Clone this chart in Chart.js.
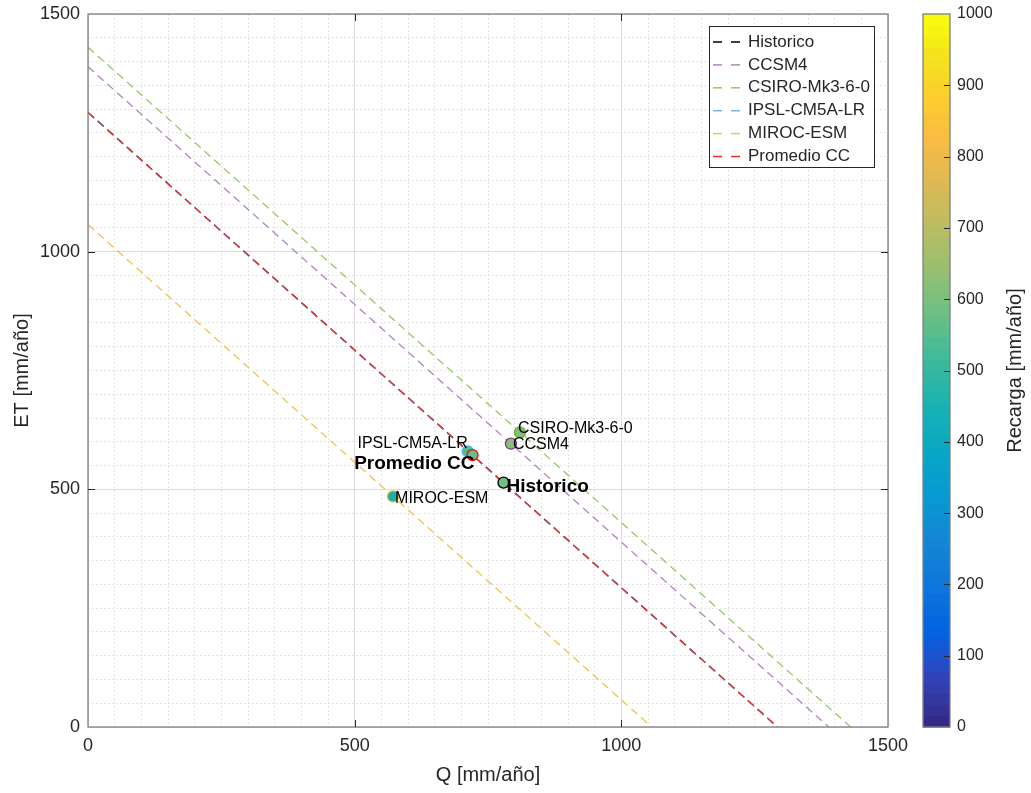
<!DOCTYPE html>
<html><head><meta charset="utf-8">
<script src="https://cdn.jsdelivr.net/npm/chart.js@4.4.0/dist/chart.umd.min.js"></script>
<style>html,body{margin:0;padding:0;background:#fff;}canvas{display:block;}</style>
</head><body>
<canvas id="c" width="1031" height="793"></canvas>
<script>
// ---- data ----
const models = ['Historico', 'CCSM4', 'CSIRO-Mk3-6-0', 'IPSL-CM5A-LR', 'MIROC-ESM', 'Promedio CC'];
const qValues = [779, 793, 810, 712, 572, 721];          // Q [mm/año]
const etValues = [514, 596, 620, 580, 485, 572];         // ET [mm/año]
const recargaValues = [590, 620, 610, 540, 450, 570];    // Recarga [mm/año]
const axisTickLabels = [0, 500, 1000, 1500];
const colorbarTicks = [0, 100, 200, 300, 400, 500, 600, 700, 800, 900, 1000];

// ---- styles ----
const FONT = '"Liberation Sans", Arial, Helvetica, sans-serif';
const TEXT = '#262626';
const lineColors = ['#000000', '#b383c2', '#9cc663', '#6cb8e6', '#f2c14e', '#ee2c2c'];
const edgeColors = ['#000000', '#7e2f8e', '#77ac30', '#4dbeee', '#edb120', '#ff0000'];
const labelStyle = [
  {dx: 3, dy: 4, align: 'left', bold: true},
  {dx: 2, dy: 1, align: 'left'},
  {dx: -2, dy: -4, align: 'left'},
  {dx: 0, dy: -8, align: 'right'},
  {dx: 2, dy: 2, align: 'left'},
  {dx: 2, dy: 9, align: 'right', bold: true}
];
const parulaAnchors = [
  [0.2081,0.1663,0.5292],[0.1959,0.2645,0.7279],[0.0117,0.3875,0.8820],[0.0498,0.4586,0.8641],
  [0.0793,0.5200,0.8312],[0.0343,0.5966,0.8199],[0.0228,0.6535,0.7768],[0.0843,0.6928,0.7062],
  [0.2178,0.7250,0.6193],[0.3953,0.7459,0.5244],[0.5709,0.7485,0.4494],[0.7184,0.7411,0.3905],
  [0.8507,0.7299,0.3360],[0.9739,0.7314,0.2666],[0.9880,0.8066,0.1794],[0.9589,0.8949,0.1132],
  [0.9763,0.9831,0.0538]
];
const anchorPos = [0,4,8,12,16,20,24,28,32,36,40,44,48,52,56,60,63].map(i => i / 63);
function parula(t) {
  t = Math.max(0, Math.min(1, t));
  let k = 0;
  while (k < anchorPos.length - 2 && t > anchorPos[k + 1]) k++;
  const f = (t - anchorPos[k]) / (anchorPos[k + 1] - anchorPos[k]);
  const a = parulaAnchors[k], b = parulaAnchors[k + 1];
  const c = a.map((v, i) => Math.round(255 * (v + (b[i] - v) * f)));
  return `rgb(${c[0]},${c[1]},${c[2]})`;
}
const CMIN = 0, CMAX = 1000;

Chart.defaults.font.family = FONT;
Chart.defaults.color = TEXT;

const lineSets = models.map((m, i) => {
  const total = qValues[i] + etValues[i];
  return {
    type: 'line', label: m,
    data: [{x: 0, y: total}, {x: total, y: 0}],
    borderColor: lineColors[i], borderWidth: 1.3, borderDash: [8, 5],
    pointRadius: 0, showLine: true, fill: false, order: 20 - i
  };
});
const pointSets = models.map((m, i) => ({
  type: 'scatter', label: m + ' punto',
  data: [{x: qValues[i], y: etValues[i]}],
  backgroundColor: parula((recargaValues[i] - CMIN) / (CMAX - CMIN)),
  borderColor: edgeColors[i], borderWidth: 1.3,
  pointRadius: 5.5, pointHoverRadius: 5.5, order: 10 - i
}));

const gridColor = ctx => (ctx.tick && ctx.tick.value % 500 === 0) ? '#dcdcdc' : '#e4e4e4';
const gridDash = ctx => (ctx.tick && ctx.tick.value % 500 !== 0) ? [2, 2] : [];
const majorLabel = v => (v % 500 === 0 ? String(v) : '');
const noPad = s => { s.paddingTop = 0; s.paddingBottom = 0; s.paddingLeft = 0; s.paddingRight = 0; };

const overlay = {
  id: 'overlay',
  afterDraw(chart) {
    const {ctx, chartArea: a, scales} = chart;
    const xs = scales.x, ys = scales.y, cs = scales.cb;
    ctx.save();
    // axes box
    ctx.strokeStyle = '#808080'; ctx.lineWidth = 1.3; ctx.setLineDash([]);
    ctx.strokeRect(a.left, a.top, a.right - a.left, a.bottom - a.top);
    // inward major ticks
    ctx.strokeStyle = TEXT; ctx.lineWidth = 1;
    const seg = (x1, y1, x2, y2) => { ctx.beginPath(); ctx.moveTo(x1, y1); ctx.lineTo(x2, y2); ctx.stroke(); };
    axisTickLabels.forEach(v => {
      if (v <= 0 || v >= 1500) return;
      const px = Math.round(xs.getPixelForValue(v)) + 0.5;
      seg(px, a.bottom, px, a.bottom - 7); seg(px, a.top, px, a.top + 7);
      const py = Math.round(ys.getPixelForValue(v)) + 0.5;
      seg(a.left, py, a.left + 7, py); seg(a.right, py, a.right - 7, py);
    });
    // point labels
    ctx.fillStyle = '#000'; ctx.textBaseline = 'middle';
    models.forEach((m, i) => {
      const el = chart.getDatasetMeta(lineSets.length + i).data[0];
      const st = labelStyle[i];
      ctx.font = (st.bold ? 'bold 19px ' : '16px ') + FONT;
      ctx.textAlign = st.align;
      ctx.fillText(m, el.x + st.dx, el.y + st.dy);
    });
    // legend
    const lx = a.right - 179, ly = a.top + 12, lw = 165, lh = 141;
    ctx.fillStyle = '#fff'; ctx.fillRect(lx, ly, lw, lh);
    ctx.strokeStyle = '#262626'; ctx.lineWidth = 1;
    ctx.strokeRect(lx + 0.5, ly + 0.5, lw, lh);
    ctx.font = '17px ' + FONT; ctx.textAlign = 'left'; ctx.fillStyle = TEXT;
    models.forEach((m, i) => {
      const y = ly + 16 + i * 22.9;
      ctx.strokeStyle = lineColors[i];
      ctx.lineWidth = 1.5; ctx.setLineDash([9, 9]);
      seg(lx + 4, y, lx + 31, y);
      ctx.setLineDash([]);
      ctx.fillText(m, lx + 39, y);
    });
    // colorbar
    const cbL = a.right + 35, cbW = 27;
    const nb = 64;
    for (let k = 0; k < nb; k++) {
      const v0 = CMIN + (CMAX - CMIN) * k / nb, v1 = CMIN + (CMAX - CMIN) * (k + 1) / nb;
      const y0 = cs.getPixelForValue(v0), y1 = cs.getPixelForValue(v1);
      ctx.fillStyle = parula(k / (nb - 1));
      ctx.fillRect(cbL, y1 - 0.5, cbW, (y0 - y1) + 1);
    }
    ctx.strokeStyle = '#808080'; ctx.lineWidth = 1.3;
    ctx.strokeRect(cbL, a.top, cbW, a.bottom - a.top);
    ctx.strokeStyle = TEXT; ctx.lineWidth = 1;
    colorbarTicks.forEach(v => {
      if (v <= CMIN || v >= CMAX) return;
      const py = Math.round(cs.getPixelForValue(v)) + 0.5;
      seg(cbL + cbW, py, cbL + cbW - 6, py);
    });
    // colorbar title
    ctx.save();
    ctx.translate(a.right + 127, (a.top + a.bottom) / 2);
    ctx.rotate(-Math.PI / 2);
    ctx.font = '20px ' + FONT; ctx.fillStyle = TEXT;
    ctx.textAlign = 'center'; ctx.textBaseline = 'middle';
    ctx.fillText('Recarga [mm/año]', 0, 0);
    ctx.restore();
    ctx.restore();
  }
};

new Chart(document.getElementById('c'), {
  type: 'scatter',
  data: {datasets: [...lineSets, ...pointSets]},
  options: {
    responsive: false, animation: false,
    layout: {padding: {top: 14, left: 0, right: 0, bottom: 0}},
    plugins: {legend: {display: false}, tooltip: {enabled: false}},
    scales: {
      x: {
        type: 'linear', min: 0, max: 1500,
        ticks: {stepSize: 50, autoSkip: false, maxRotation: 0, callback: majorLabel,
                font: {size: 18}, color: TEXT, padding: 8},
        grid: {color: gridColor, lineWidth: 1, drawTicks: false},
        border: {display: false, dash: gridDash},
        title: {display: true, text: 'Q [mm/año]', font: {size: 20}, color: TEXT, padding: {top: 0, bottom: 6}},
        afterFit: s => { s.height = 66; noPad(s); }
      },
      y: {
        type: 'linear', min: 0, max: 1500,
        ticks: {stepSize: 50, autoSkip: false, callback: majorLabel,
                font: {size: 18}, color: TEXT, padding: 8},
        grid: {color: gridColor, lineWidth: 1, drawTicks: false},
        border: {display: false, dash: gridDash},
        title: {display: true, text: 'ET [mm/año]', font: {size: 20}, color: TEXT, padding: {top: 10, bottom: 0}},
        afterFit: s => { s.width = 88; noPad(s); }
      },
      cb: {
        type: 'linear', position: 'right', min: CMIN, max: CMAX,
        ticks: {stepSize: 100, autoSkip: false, font: {size: 16}, color: TEXT, padding: 69,
                callback: v => String(v)},
        grid: {display: false, drawTicks: false, tickLength: 0},
        border: {display: false},
        afterFit: s => { s.width = 143; noPad(s); }
      }
    }
  },
  plugins: [overlay]
});
</script>
</body></html>
